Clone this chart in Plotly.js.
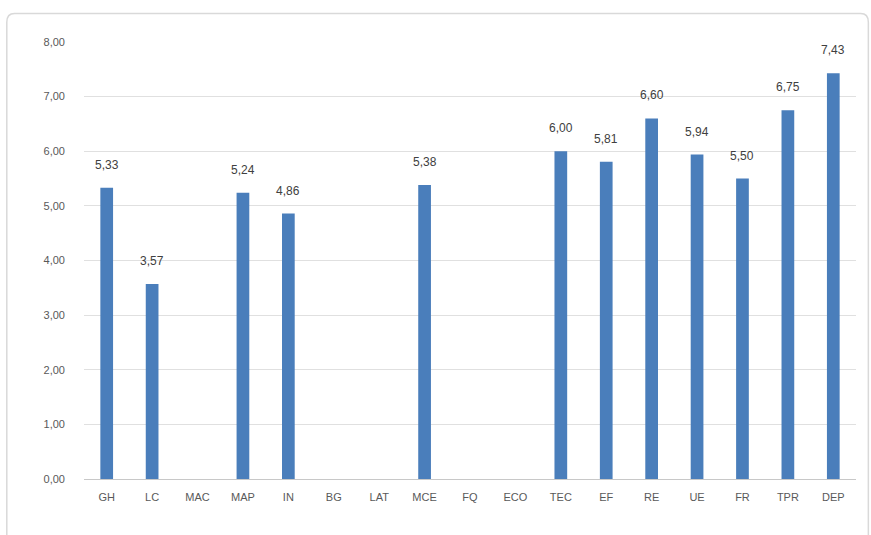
<!DOCTYPE html>
<html>
<head>
<meta charset="utf-8">
<script src="https://cdn.plot.ly/plotly-3.0.1.min.js"></script>
<style>html,body{margin:0;padding:0;background:#fff;}#chart{width:871px;height:535px;}</style>
</head>
<body>
<div id="chart"></div>
<script>
const categories = ["GH","LC","MAC","MAP","IN","BG","LAT","MCE","FQ","ECO","TEC","EF","RE","UE","FR","TPR","DEP"];
const values = [5.33, 3.57, null, 5.24, 4.86, null, null, 5.38, null, null, 6.00, 5.81, 6.60, 5.94, 5.50, 6.75, 7.43];
const yTicks = [0,1,2,3,4,5,6,7,8];

const trace = {
  type: "bar",
  x: categories,
  y: values,
  marker: {color: "#4a7ebb", line: {width: 0}},
  width: 0.28,
  hoverinfo: "none"
};

const labelAnnotations = categories.map((c, i) => values[i] === null ? null : ({
  x: c, y: values[i], xref: "x", yref: "y",
  text: values[i].toFixed(2).replace(".", ","),
  showarrow: false, yanchor: "bottom", yshift: 14,
  font: {family: "Liberation Sans, Arial, sans-serif", size: 12, color: "#404040"}
})).filter(a => a !== null);

const layout = {
  width: 871, height: 535,
  margin: {l: 84, r: 15, t: 42, b: 56},
  paper_bgcolor: "#ffffff",
  plot_bgcolor: "#ffffff",
  separators: ", ",
  showlegend: false,
  xaxis: {
    type: "category",
    tickfont: {family: "Liberation Sans, Arial, sans-serif", size: 11, color: "#595959"},
    showgrid: false,
    showline: false,
    ticks: "",
    ticklabelstandoff: 10
  },
  yaxis: {
    range: [0, 8],
    tickvals: yTicks,
    tickformat: ".2f",
    tickfont: {family: "Liberation Sans, Arial, sans-serif", size: 11, color: "#595959"},
    gridcolor: "#e0e0e0",
    gridwidth: 1,
    zeroline: true,
    zerolinecolor: "#c8c8c8",
    zerolinewidth: 1,
    showline: false,
    ticks: "",
    ticklabelstandoff: 18
  },
  annotations: labelAnnotations,
  shapes: [{
    type: "path", xref: "paper", yref: "paper",
    path: "M -0.1 -0.2 L -0.1 1.045 Q -0.1 1.065 -0.09 1.065 L 1.006 1.065 Q 1.016 1.065 1.016 1.045 L 1.016 -0.2",
    line: {color: "#d9d9d9", width: 1.5}, layer: "below"
  }]
};

Plotly.newPlot("chart", [trace], layout, {staticPlot: true, displayModeBar: false});
</script>
</body>
</html>
